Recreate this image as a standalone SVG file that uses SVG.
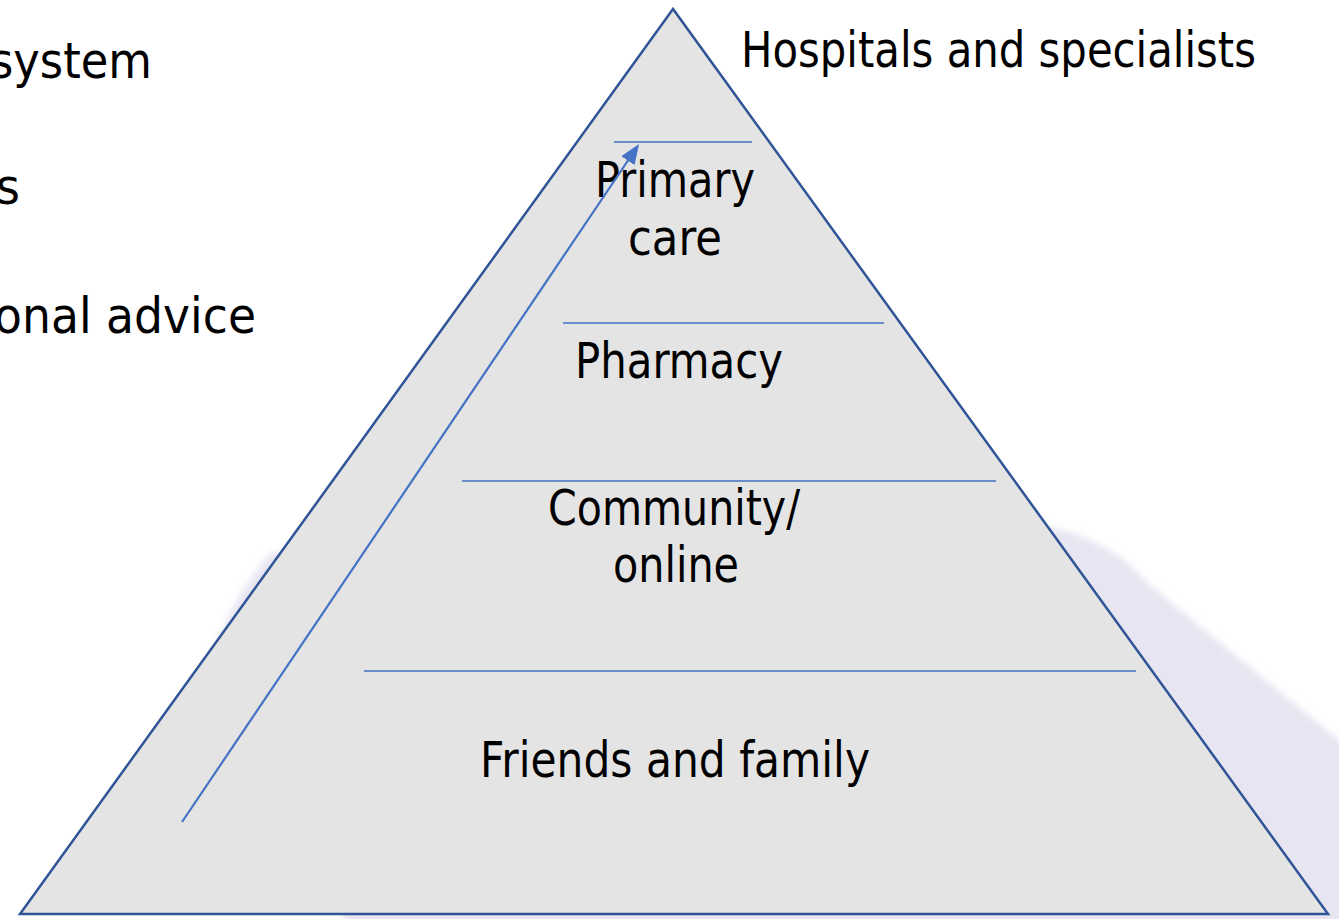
<svg xmlns="http://www.w3.org/2000/svg" width="1339" height="919" viewBox="0 0 1339 919">
  <style>
    .lbl { font-family: "DejaVu Sans", "Liberation Sans", sans-serif; font-size: 50px; fill: #000000; }
    .mid { text-anchor: middle; }
    .end { text-anchor: end; }
    .tier { stroke: #4472c4; stroke-width: 1.5; fill: none; }
  </style>
  <defs>
    <filter id="soft" x="-10%" y="-10%" width="120%" height="120%">
      <feGaussianBlur stdDeviation="3"/>
    </filter>
    <marker id="head" viewBox="0 0 20 16" refX="2" refY="8" markerWidth="20" markerHeight="16" markerUnits="userSpaceOnUse" orient="auto">
      <path d="M0,0 L20,8 L0,16 Z" fill="#4472c4"/>
    </marker>
  </defs>

  <rect width="1339" height="919" fill="#ffffff"/>

  <!-- soft lavender backdrop behind the pyramid -->
  <path d="M272,552 Q230,598 206,672 L348,925 L1345,925 L1345,745 L1150,585 Q1112,540 1050,527 Z" fill="#e8e5f2" filter="url(#soft)"/>

  <!-- left-hand text, running off the left edge -->
  <g id="side-text">
    <text class="lbl end" x="152" y="78" textLength="162" lengthAdjust="spacingAndGlyphs">system</text>
    <text class="lbl end" x="20" y="204" textLength="24" lengthAdjust="spacingAndGlyphs">s</text>
    <text class="lbl end" x="256" y="333" textLength="262" lengthAdjust="spacingAndGlyphs">onal advice</text>
  </g>

  <!-- pyramid -->
  <g id="pyramid">
    <polygon points="673,9 20,914 1328,914" fill="#e4e4e4" stroke="#2f5597" stroke-width="2.5" stroke-linejoin="miter"/>
  </g>

  <!-- tier dividers -->
  <g id="tiers">
    <line class="tier" x1="614" y1="142" x2="752" y2="142"/>
    <line class="tier" x1="563" y1="323" x2="884" y2="323"/>
    <line class="tier" x1="462" y1="481" x2="996" y2="481"/>
    <line class="tier" x1="364" y1="671" x2="1136" y2="671"/>
  </g>

  <g id="top-label">
    <text class="lbl" x="741" y="67" textLength="515" lengthAdjust="spacingAndGlyphs">Hospitals and specialists</text>
  </g>

  <g id="primary-care">
    <text class="lbl mid" x="675" y="197" textLength="160" lengthAdjust="spacingAndGlyphs">Primary</text>
    <text class="lbl mid" x="675" y="255" textLength="94" lengthAdjust="spacingAndGlyphs">care</text>
  </g>

  <g id="pharmacy">
    <text class="lbl mid" x="679" y="378" textLength="208" lengthAdjust="spacingAndGlyphs">Pharmacy</text>
  </g>

  <g id="community">
    <text class="lbl mid" x="674" y="525" textLength="252" lengthAdjust="spacingAndGlyphs">Community/</text>
    <text class="lbl mid" x="676" y="582" textLength="126" lengthAdjust="spacingAndGlyphs">online</text>
  </g>

  <g id="friends-family">
    <text class="lbl mid" x="675" y="777" textLength="390" lengthAdjust="spacingAndGlyphs">Friends and family</text>
  </g>

  <!-- upward escalation arrow -->
  <g id="connectors">
    <line x1="182" y1="822" x2="629" y2="159" stroke="#4472c4" stroke-width="2.2" marker-end="url(#head)"/>
  </g>
</svg>
